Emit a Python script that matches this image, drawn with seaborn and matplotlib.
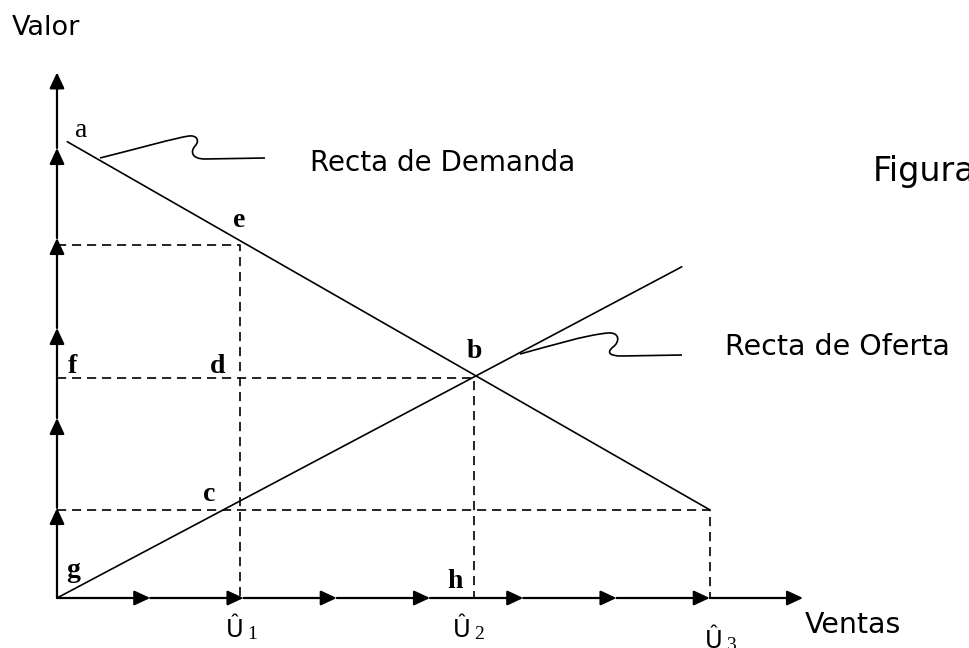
import matplotlib.pyplot as plt
from matplotlib.path import Path
from matplotlib.patches import PathPatch
import pandas as pd
import seaborn as sns

# marcas con flecha sobre los ejes (unidades del grafico)
x_marks = [0, 1, 2, 3, 4, 5, 6, 7, 8]
y_marks = [0, 1, 2, 3, 4, 5, 5.84]

# cantidades Û1, Û2, Û3 y niveles de valor (c, f-b, e)
u_vals = [1.96, 4.47, 7.0]
u_subs = ['1', '2', '3']
val_c = 0.98
val_b = 2.45
val_e = 3.92

# rectas de demanda y oferta
demanda_x = [0.11, 7.0]
demanda_y = [5.07, 0.98]
oferta_x = [0.0, 6.70]
oferta_y = [0.0, 3.68]

# letras de los puntos (posicion en pixeles de la imagen)
letras = ['a', 'e', 'b', 'f', 'd', 'c', 'g', 'h']
letras_px = [(75, 137), (233, 227), (467, 358), (68, 373),
             (210, 373), (203, 501), (66, 577), (447, 588)]
letras_bold = [False, True, True, True, True, True, True, True]

W, H = 970, 648
X0, Y0 = 57, 598      # origen en pixeles
UX, UY = 93.25, 90.0  # pixeles por unidad


def px(x, y):
    return (x - X0) / UX, (Y0 - y) / UY


sns.set_style("white")
plt.rcParams['font.family'] = ['DejaVu Sans']
plt.rcParams['text.color'] = 'black'

fig = plt.figure(figsize=(W / 100, H / 100), dpi=100)
ax = fig.add_axes([0, 0, 1, 1])

# rectas
sns.lineplot(x=demanda_x, y=demanda_y, ax=ax, color='black', lw=1.2,
             sort=False, estimator=None)
sns.lineplot(x=oferta_x, y=oferta_y, ax=ax, color='black', lw=1.2,
             sort=False, estimator=None)

# lineas de trazos
guias = pd.DataFrame({
    'x': [0, u_vals[0], u_vals[0],
          0, u_vals[1], u_vals[1],
          0, u_vals[2], u_vals[2]],
    'y': [val_e, val_e, 0,
          val_b, val_b, 0,
          val_c, val_c, 0],
    'g': ['e'] * 3 + ['b'] * 3 + ['c'] * 3,
})
for _, d in guias.groupby('g'):
    sns.lineplot(data=d, x='x', y='y', ax=ax, color='black', lw=1.2,
                 linestyle=(0, (5.5, 3.5)), sort=False, estimator=None)

# ejes con flechas
arrow = dict(arrowstyle='-|>,head_length=0.6,head_width=0.28',
             mutation_scale=16, color='black', lw=1.6,
             shrinkA=0, shrinkB=0)
for x1, x2 in zip(x_marks[:-1], x_marks[1:]):
    ax.annotate('', xy=(x2, 0), xytext=(x1, 0), arrowprops=arrow)
for y1, y2 in zip(y_marks[:-1], y_marks[1:]):
    ax.annotate('', xy=(0, y2), xytext=(0, y1), arrowprops=arrow)

# llamadas (curvas a mano)
def llamada(pts):
    verts = [px(*p) for p in pts]
    codes = [Path.MOVETO] + [Path.CURVE4] * 9 + [Path.LINETO]
    ax.add_patch(PathPatch(Path(verts, codes), fc='none', ec='black', lw=1.2))

llamada([(100, 158), (140, 148), (175, 138), (189, 136),
         (197, 135), (200, 141), (195, 146),
         (190, 152), (192, 159), (205, 159), (265, 158)])
llamada([(520, 354), (550, 346), (585, 335), (608, 333),
         (620, 332), (620, 342), (613, 347),
         (606, 353), (610, 356), (622, 356), (682, 355)])

# textos
sans = dict(family='DejaVu Sans', ha='left', va='baseline', color='black')
ax.text(*px(12, 35), 'Valor', fontsize=19.5, **sans)
ax.text(*px(310, 171), 'Recta de Demanda', fontsize=20, **sans)
ax.text(*px(873, 181), 'Figura', fontsize=24, **sans)
ax.text(*px(725, 355), 'Recta de Oferta', fontsize=20.5, **sans)
ax.text(*px(805, 633), 'Ventas', fontsize=20.5, **sans)

u_px = [(226, 637), (453, 637), (705, 648)]
for (ux, uy), s in zip(u_px, u_subs):
    ax.text(*px(ux, uy), 'Û', fontsize=17.5, **sans)
    ax.text(*px(ux + 21, uy + 2), s, fontsize=14, family='Liberation Serif',
            color='black', ha='left', va='baseline')

for t, p, b in zip(letras, letras_px, letras_bold):
    ax.text(*px(*p), t, fontsize=20, family='Liberation Serif', color='black',
            fontweight='bold' if b else 'normal', ha='left', va='baseline')

ax.set_xlim(-X0 / UX, (W - X0) / UX)
ax.set_ylim((Y0 - H) / UY, Y0 / UY)
ax.set_axis_off()

fig.savefig('out.png', dpi=100)
